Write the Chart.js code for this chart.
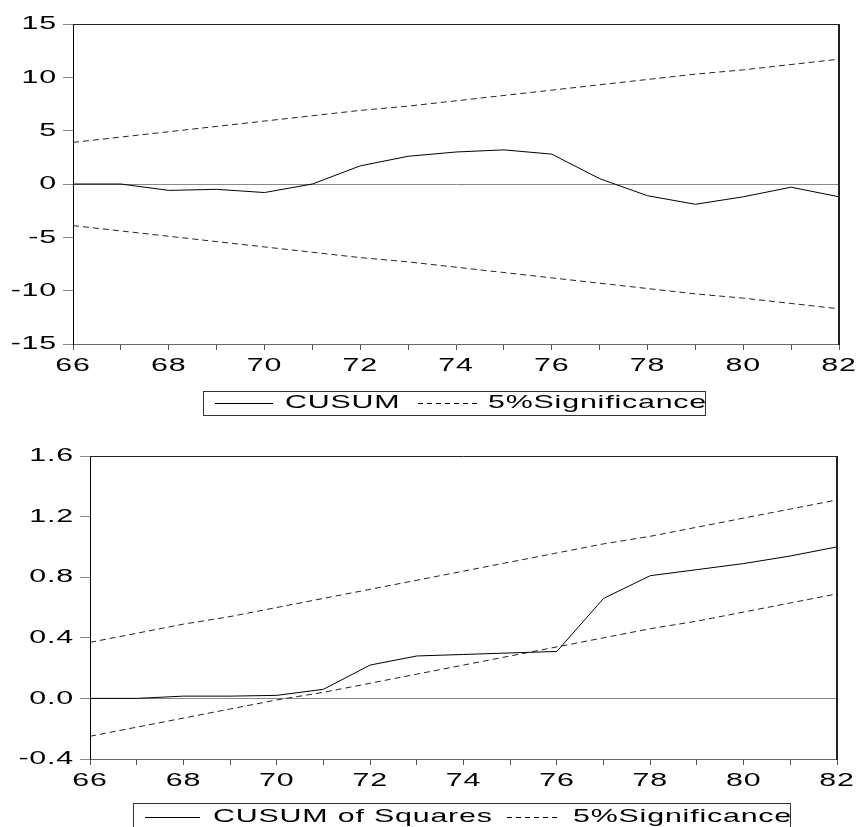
<!DOCTYPE html>
<html><head><meta charset="utf-8">
<script src="https://cdn.jsdelivr.net/npm/chart.js@4"></script>
<style>
html,body{margin:0;padding:0;background:#fff;width:860px;height:827px;overflow:hidden}
canvas{position:absolute;left:0}
#c1{top:0}
#c2{top:420px}
</style></head><body>
<canvas id="c1" width="860" height="420"></canvas>
<canvas id="c2" width="860" height="407"></canvas>
<script>
// ---- data ----
const years = ['66','67','68','69','70','71','72','73','74','75','76','77','78','79','80','81','82'];
const cusum = [0, 0, -0.6, -0.5, -0.8, 0, 1.7, 2.6, 3.0, 3.2, 2.8, 0.5, -1.1, -1.9, -1.2, -0.3, -1.2];
const cusumUpper = [3.9, 4.4, 4.9, 5.4, 5.9, 6.4, 6.9, 7.3, 7.8, 8.3, 8.8, 9.3, 9.8, 10.3, 10.7, 11.2, 11.7];
const cusumLower = [-3.9, -4.4, -4.9, -5.4, -5.9, -6.4, -6.9, -7.3, -7.8, -8.3, -8.8, -9.3, -9.8, -10.3, -10.7, -11.2, -11.7];
const cusumSq = [0, 0, 0.015, 0.015, 0.02, 0.06, 0.22, 0.28, 0.29, 0.30, 0.31, 0.66, 0.81, 0.85, 0.89, 0.94, 1.0];
const sqUpper = [0.37, 0.43, 0.49, 0.54, 0.60, 0.66, 0.72, 0.78, 0.84, 0.90, 0.96, 1.02, 1.07, 1.13, 1.19, 1.25, 1.31];
const sqLower = [-0.25, -0.19, -0.13, -0.07, -0.01, 0.04, 0.10, 0.16, 0.22, 0.28, 0.34, 0.40, 0.46, 0.51, 0.57, 0.63, 0.69];
const legendMain1 = 'CUSUM';
const legendMain2 = 'CUSUM of Squares';
const legendBand = '5%Significance';

const FONT = "'Liberation Sans', Arial, sans-serif";

// wide-looking text as in the reference
function stretchText(ctx, sx, ls) {
  const orig = ctx.fillText;
  ctx.fillText = function (t, x, y) {
    this.save();
    this.translate(x, y);
    this.scale(sx, 1);
    this.letterSpacing = ls;
    orig.call(this, t, 0, 0);
    this.restore();
  };
}

const frame = {
  id: 'frame',
  afterDraw(chart) {
    const { ctx, chartArea: a } = chart;
    ctx.save();
    ctx.strokeStyle = '#222';
    ctx.lineWidth = 1;
    ctx.beginPath();
    ctx.moveTo(a.left, Math.round(a.top) + 0.5);
    ctx.lineTo(a.right, Math.round(a.top) + 0.5);
    ctx.stroke();
    ctx.lineWidth = 2;
    ctx.beginPath();
    ctx.moveTo(Math.round(a.right), a.top);
    ctx.lineTo(Math.round(a.right), a.bottom + 1);
    ctx.stroke();
    ctx.restore();
  }
};

const boxLegend = {
  id: 'boxLegend',
  afterDraw(chart, args, o) {
    const ctx = chart.ctx;
    const ds = chart.data.datasets;
    ctx.save();
    ctx.strokeStyle = '#333';
    ctx.lineWidth = 1;
    ctx.strokeRect(o.box[0] + 0.5, o.box[1] + 0.5, o.box[2], o.box[3]);
    ctx.strokeStyle = '#000';
    ctx.beginPath();
    ctx.moveTo(o.l1[0], o.y + 0.5); ctx.lineTo(o.l1[1], o.y + 0.5);
    ctx.stroke();
    ctx.setLineDash([5, 4]);
    ctx.beginPath();
    ctx.moveTo(o.l2[0], o.y + 0.5); ctx.lineTo(o.l2[1], o.y + 0.5);
    ctx.stroke();
    ctx.setLineDash([]);
    ctx.fillStyle = '#000';
    ctx.font = '19px ' + FONT;
    ctx.textAlign = 'left';
    ctx.textBaseline = 'middle';
    ctx.fillText(ds[0].label, o.t1, o.y);
    ctx.fillText(ds[1].label, o.t2, o.y);
    ctx.restore();
  }
};

function makeChart(id, main, up, lo, mainLabel, yMin, yMax, yStep, yDec, yW, xH, pad, legend) {
  const canvas = document.getElementById(id);
  const ctx = canvas.getContext('2d');
  stretchText(ctx, 1.6, '0.5px');
  return new Chart(ctx, {
    type: 'line',
    data: {
      labels: years,
      datasets: [
        { label: mainLabel, data: main, borderColor: '#000', borderWidth: 1, pointRadius: 0, tension: 0 },
        { label: legendBand, data: up, borderColor: '#222', borderWidth: 1, borderDash: [6, 4], pointRadius: 0, tension: 0 },
        { label: legendBand, data: lo, borderColor: '#222', borderWidth: 1, borderDash: [6, 4], pointRadius: 0, tension: 0 }
      ]
    },
    options: {
      responsive: false,
      animation: false,
      devicePixelRatio: 1,
      layout: { padding: pad },
      plugins: { legend: { display: false }, tooltip: { enabled: false }, boxLegend: legend },
      scales: {
        x: {
          type: 'category',
          offset: false,
          afterFit(s) { s.height = xH; },
          grid: { drawOnChartArea: false, tickLength: 6, tickColor: '#555', lineWidth: 1 },
          border: { display: true, color: '#666', width: 1 },
          ticks: {
            autoSkip: false, maxRotation: 0, color: '#000', padding: 4,
            font: { family: FONT, size: 19 },
            callback: (v, i) => (i % 2 === 0 ? years[i] : '')
          }
        },
        y: {
          min: yMin, max: yMax,
          afterFit(s) { s.width = yW; },
          grid: {
            color: c => (c.tick && Math.abs(c.tick.value) < 1e-9 ? '#888' : 'rgba(0,0,0,0)'),
            tickColor: '#888', tickLength: 10, lineWidth: 1
          },
          border: { display: true, color: '#000', width: 1 },
          ticks: {
            stepSize: yStep, color: '#000', padding: 6,
            font: { family: FONT, size: 19 },
            callback: v => v.toFixed(yDec)
          }
        }
      }
    },
    plugins: [frame, boxLegend]
  });
}

makeChart('c1', cusum, cusumUpper, cusumLower, legendMain1, -15, 15, 5, 0, 73, 76,
  { top: 24, right: 21, left: 0, bottom: 0 },
  { box: [203, 391, 502, 24], y: 403, l1: [215, 273], t1: 285, l2: [418, 477], t2: 488 });

makeChart('c2', cusumSq, sqUpper, sqLower, legendMain2, -0.4, 1.6, 0.4, 1, 90, 68,
  { top: 36, right: 23, left: 0, bottom: 0 },
  { box: [133, 383, 657, 40], y: 397, l1: [145, 200], t1: 213, l2: [507, 558], t2: 573 });
</script>
</body></html>
